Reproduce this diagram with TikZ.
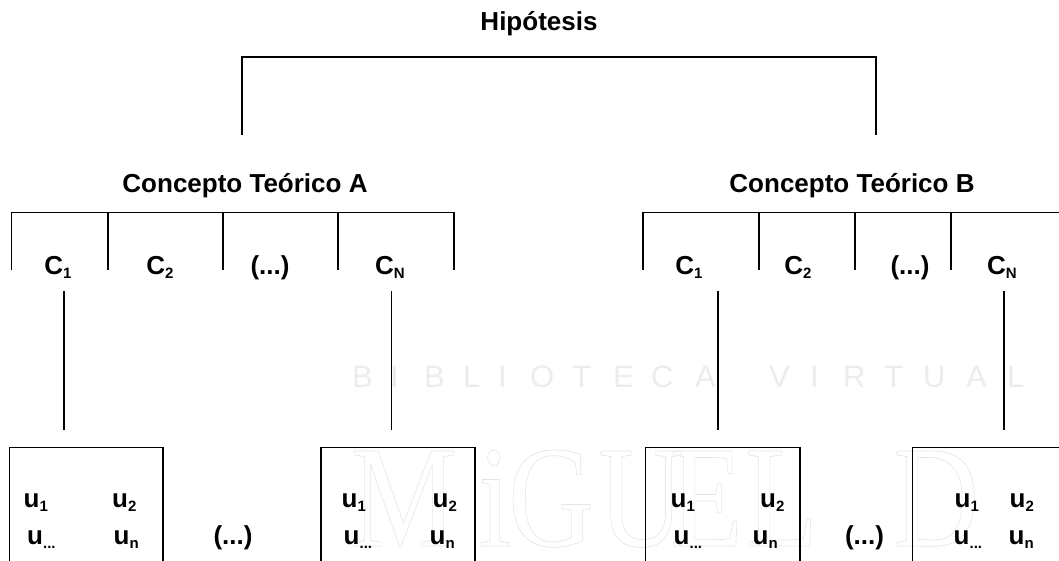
\documentclass[tikz,border=0pt]{standalone}
\usepackage{fontspec}
\setmainfont{Liberation Sans}
\newfontfamily\wmfont{Liberation Serif}
\newcommand{\sbs}[1]{\raisebox{-4.5pt}{\fontsize{15}{17}\selectfont #1}}
\newcommand{\outl}[1]{\special{pdf:code 1 Tr 0.7 w 0.9 G}\scalebox{0.82}[1]{#1}}
\definecolor{wm}{HTML}{ECECEC}
\tikzset{
  x=1pt,y=-1pt,
  lbl/.style={font=\fontsize{26}{28}\selectfont\bfseries,inner sep=0pt,text=black},
  ulbl/.style={lbl,anchor=base west},
  clbl/.style={lbl,anchor=base},
  ln/.style={draw=black,line width=1.2pt},
  wmtext/.style={inner sep=0pt,text=wm,anchor=base west},
  wmbig/.style={inner sep=0pt,anchor=base west,font=\wmfont\fontsize{145}{145}\selectfont},
}
\begin{document}
\begin{tikzpicture}
\useasboundingbox (0,0) rectangle (1059,560);
% watermark
\foreach \ch/\xx in {B/352,I/390,B/424,L/463,I/498,O/530,T/572,E/613,C/651,A/695,V/769,I/810,R/843,T/884,U/923,A/966,L/1007}
  \node[wmtext,font=\fontsize{31}{32}\selectfont] at (\xx,387) {\ch};
\foreach \ch/\xx in {M/351,i/478,G/508,U/598,E/670,L/745,D/893}
  \node[wmbig] at (\xx,546) {\outl{\ch}};
% top
\node[clbl] (hip) at (539,30) {Hipótesis};
\coordinate (hl) at (242,135); \coordinate (hr) at (876,135);
\coordinate (htl) at (242,57); \coordinate (htr) at (876,57);
\draw[ln] (hl) -- (htl) -- (htr) -- (hr);
% concept A
\node[clbl] (ca) at (245,192) {Concepto Teórico A};
\coordinate (a0t) at (11.8,212.4); \coordinate (a4t) at (454,212.4);
\draw[ln] (11.8,270) -- (a0t) -- (a4t) -- (454,270);
\foreach \xx in {108,223,338} \draw[ln] (\xx,212.4) -- (\xx,270);
\node[clbl] (a1) at (58,274) {C\sbs{1}};
\node[clbl] (a2) at (160,274) {C\sbs{2}};
\node[clbl] (a3) at (270,274) {(...)};
\node[clbl] (a4) at (390,274) {C\sbs{N}};
% concept B
\node[clbl] (cb) at (852,192) {Concepto Teórico B};
\coordinate (b0t) at (643,212.4); \coordinate (b4t) at (1060,212.4);
\draw[ln] (643,270) -- (b0t) -- (b4t);
\foreach \xx in {759,855,951} \draw[ln] (\xx,212.4) -- (\xx,270);
\node[clbl] (b1) at (689,274) {C\sbs{1}};
\node[clbl] (b2) at (798,274) {C\sbs{2}};
\node[clbl] (b3) at (910,274) {(...)};
\node[clbl] (b4) at (1002,274) {C\sbs{N}};
% boxes
\draw[ln] (9.5,561) -- (9.5,447.3) -- (163,447.3) -- (163,561);
\draw[ln] (321,561) -- (321,447.3) -- (475,447.3) -- (475,561);
\draw[ln] (645.6,561) -- (645.6,447.3) -- (800,447.3) -- (800,561);
\draw[ln] (912.7,561) -- (912.7,447.3) -- (1060,447.3);
% drop lines
\coordinate (va1) at (64,291); \coordinate (va1e) at (64,430);
\coordinate (va2) at (391.5,291); \coordinate (va2e) at (391.5,430);
\coordinate (vb1) at (718,291); \coordinate (vb1e) at (718,429.5);
\coordinate (vb2) at (1004,291); \coordinate (vb2e) at (1004,429.5);
\draw[ln] (va1) -- (va1e); \draw[ln] (va2) -- (va2e);
\draw[ln] (vb1) -- (vb1e); \draw[ln] (vb2) -- (vb2e);
% labels in boxes
\foreach \n/\xa/\xb/\xc/\xd in {p/23.5/112/27/113.5,q/341.5/432.5/343.5/429.5,r/670.5/760/673.5/752.5,s/954.5/1009.5/953.5/1008.5}{
  \node[ulbl] (\n1) at (\xa,507) {u\sbs{1}};
  \node[ulbl] (\n2) at (\xb,507) {u\sbs{2}};
  \node[ulbl] (\n3) at (\xc,544) {u\sbs{...}};
  \node[ulbl] (\n4) at (\xd,544) {u\sbs{n}};
}
\node[clbl] (da) at (233,544) {(...)};
\node[clbl] (db) at (864.5,544) {(...)};
\end{tikzpicture}
\end{document}
